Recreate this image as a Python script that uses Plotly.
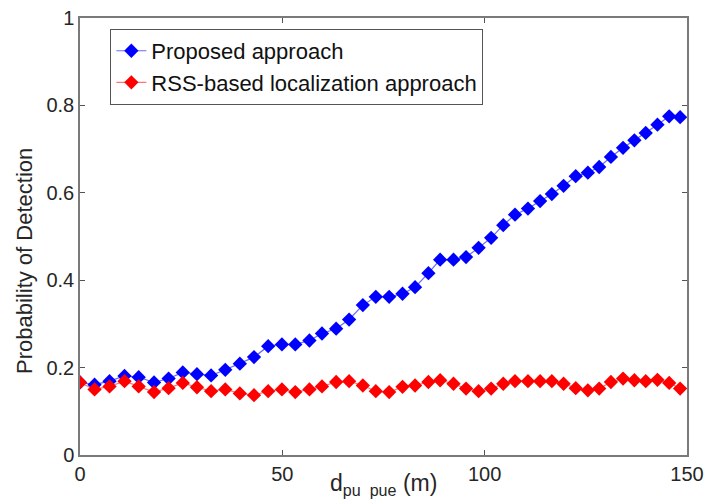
import plotly.graph_objects as go

x_vals = [0, 3.6, 7.3, 11.0, 14.5, 18.3, 21.9, 25.4, 28.9, 32.4, 35.9, 39.5, 43.0, 46.5,
          49.9, 53.2, 56.7, 59.8, 63.3, 66.5, 69.9, 73.1, 76.4, 79.7, 82.8, 86.1, 89.0,
          92.3, 95.4, 98.5, 101.6, 104.6, 107.5, 110.7, 113.7, 116.6, 119.5, 122.5, 125.5,
          128.3, 131.2, 134.2, 137.0, 139.8, 142.7, 145.6, 148.3]

proposed = [0.166, 0.161, 0.169, 0.181, 0.178, 0.166, 0.175, 0.189, 0.185, 0.182, 0.195,
            0.209, 0.224, 0.249, 0.253, 0.253, 0.262, 0.278, 0.289, 0.310, 0.343, 0.362,
            0.362, 0.369, 0.384, 0.416, 0.447, 0.447, 0.453, 0.474, 0.497, 0.526, 0.550,
            0.564, 0.581, 0.597, 0.616, 0.638, 0.646, 0.659, 0.682, 0.703, 0.720, 0.737,
            0.756, 0.775, 0.773]

rss_based = [0.166, 0.150, 0.157, 0.169, 0.157, 0.144, 0.153, 0.165, 0.155, 0.146, 0.150,
             0.141, 0.137, 0.146, 0.150, 0.144, 0.150, 0.157, 0.167, 0.169, 0.159, 0.146,
             0.144, 0.156, 0.159, 0.167, 0.171, 0.163, 0.152, 0.146, 0.152, 0.163, 0.169,
             0.169, 0.169, 0.169, 0.163, 0.153, 0.148, 0.152, 0.167, 0.175, 0.171, 0.169,
             0.172, 0.165, 0.152]

x_ticks = [0, 50, 100, 150]
y_ticks = [0, 0.2, 0.4, 0.6, 0.8, 1]
y_ticktext = ["0", "0.2", "0.4", "0.6", "0.8", "1"]

FONT = "Liberation Sans, Arial, sans-serif"
TXT = "#262626"

fig = go.Figure()
fig.add_trace(go.Scatter(
    x=x_vals, y=proposed, mode="lines+markers", name="Proposed approach",
    line=dict(color="rgba(40,40,255,0.7)", width=1.2),
    marker=dict(symbol="diamond", size=11, color="#0000ff", line=dict(width=0))))
fig.add_trace(go.Scatter(
    x=x_vals, y=rss_based, mode="lines+markers", name="RSS-based localization approach",
    line=dict(color="rgba(255,60,60,0.7)", width=1.2),
    marker=dict(symbol="diamond", size=11, color="#ff0000", line=dict(width=0))))

axis_common = dict(
    showgrid=False, zeroline=False, showline=True, mirror="ticks",
    linecolor="#7a7a7a", linewidth=1.5, ticks="inside", ticklen=5,
    tickcolor="#555555", tickwidth=1, automargin=False,
    tickfont=dict(family=FONT, size=20, color=TXT),
)

fig.update_xaxes(range=[0, 150], tickvals=x_ticks, **axis_common)
fig.update_yaxes(range=[0, 1], tickvals=y_ticks, ticktext=y_ticktext, **axis_common)

fig.add_annotation(
    text="d<sub>pu  pue</sub> (m)", xref="paper", yref="paper",
    x=0.5, y=-0.068, xanchor="center", yanchor="middle", showarrow=False,
    font=dict(family=FONT, size=23, color=TXT))

fig.add_annotation(
    text="Probability of Detection", xref="paper", yref="paper",
    x=-0.0906, y=0.444, xanchor="center", yanchor="middle", showarrow=False,
    textangle=-90, font=dict(family=FONT, size=22, color=TXT))

fig.update_layout(
    width=707, height=502,
    margin=dict(l=80, r=20, t=18, b=47),
    plot_bgcolor="white", paper_bgcolor="white",
    legend=dict(x=0.05, y=0.975, xanchor="left", yanchor="top",
                bgcolor="white", bordercolor="#555555", borderwidth=1,
                font=dict(family=FONT, size=22, color="#111111"),
                tracegroupgap=0, itemwidth=30),
    showlegend=True,
)

fig.write_html("out.html")
